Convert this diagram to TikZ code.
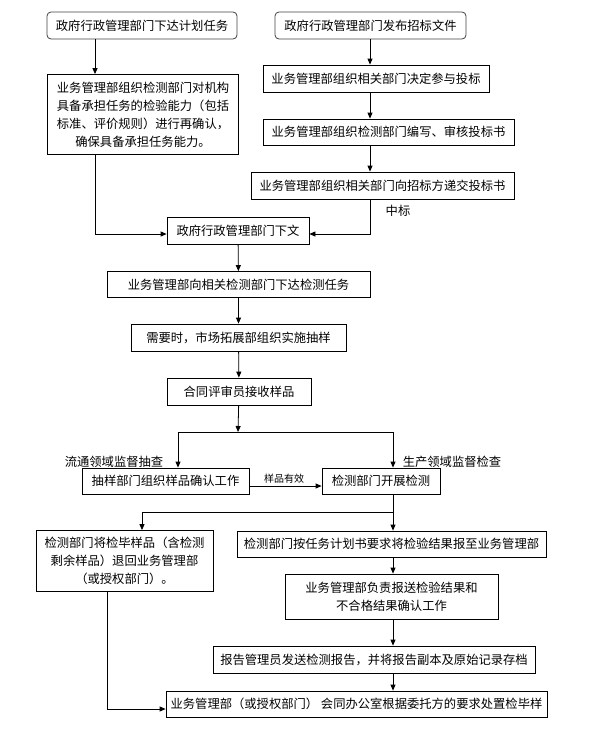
\documentclass[tikz,border=0pt]{standalone}
\usepackage{fontspec}
\setmainfont{Noto Sans CJK SC}
\usetikzlibrary{shapes, arrows.meta, positioning}
\tikzstyle{proc} = [rectangle, draw, line width=0.8pt, align=center, inner sep=0pt]
\tikzstyle{start} = [proc, rounded corners=4pt, draw=black!75]
\tikzstyle{flow} = [-{Triangle[length=6pt, width=5pt]}, line width=0.8pt]
\tikzstyle{line} = [line width=0.8pt]
\tikzstyle{tag} = [inner sep=0pt]

\begin{document}
\begin{tikzpicture}[x=1pt, y=-1pt, font=\fontsize{12.3pt}{18pt}\selectfont]
  \useasboundingbox (0,0) rectangle (589,739);

  % 任务来源
  \node[start, minimum width=190, minimum height=27] (task) at (142,25.5) {政府行政管理部门下达计划任务};
  \node[start, minimum width=191, minimum height=27] (tender) at (370.5,25.5) {政府行政管理部门发布招标文件};

  % 计划任务
  \node[proc, minimum width=191, minimum height=80] (recheck) at (143,114.5)
    {业务管理部组织检测部门对机构\\具备承担任务的检验能力（包括\\标准、评价规则）进行再确认，\\确保具备承担任务能力。};

  % 投标
  \node[proc, minimum width=226, minimum height=27] (decide) at (376,78.5) {业务管理部组织相关部门决定参与投标};
  \node[proc, minimum width=251, minimum height=26] (write) at (388.5,132) {业务管理部组织检测部门编写、审核投标书};
  \node[proc, minimum width=263, minimum height=27] (submit) at (382.5,185.5) {业务管理部组织相关部门向招标方递交投标书};
  \node[tag] (win) at (398,211) {中标};

  % 下达
  \node[proc, minimum width=142, minimum height=27] (doc) at (238,230.5) {政府行政管理部门下文};
  \node[proc, minimum width=263, minimum height=26] (assign) at (238.5,284.5) {业务管理部向相关检测部门下达检测任务};
  \node[proc, minimum width=215, minimum height=27] (sample) at (238.5,337.5) {需要时，市场拓展部组织实施抽样};
  \node[proc, minimum width=144, minimum height=27] (receive) at (239,391.5) {合同评审员接收样品};

  % 抽查 / 检查
  \node[tag] (circ) at (114,462) {流通领域监督抽查};
  \node[tag] (prod) at (452,462) {生产领域监督检查};
  \node[proc, minimum width=167, minimum height=26] (confirm) at (165.5,481) {抽样部门组织样品确认工作};
  \node[proc, minimum width=118, minimum height=26] (test) at (381,481) {检测部门开展检测};
  \node[tag, font=\fontsize{10pt}{12pt}\selectfont] (valid) at (284,479) {样品有效};

  % 检测后
  \node[proc, minimum width=177, minimum height=61] (back) at (124.5,561)
    {检测部门将检毕样品（含检测\\剩余样品）退回业务管理部\\（或授权部门）。};
  \node[proc, minimum width=309, minimum height=26] (report) at (391.5,544) {检测部门按任务计划书要求将检验结果报至业务管理部};
  \node[proc, minimum width=213, minimum height=45] (send) at (391.5,596.5)
    {业务管理部负责报送检验结果和\\不合格结果确认工作};
  \node[proc, minimum width=322, minimum height=27] (archive) at (374,659.5) {报告管理员发送检测报告，并将报告副本及原始记录存档};
  \node[proc, minimum width=381, minimum height=26] (dispose) at (356.5,704) {业务管理部（或授权部门） 会同办公室根据委托方的要求处置检毕样};

  % 转折点
  \coordinate (lcol) at (95,234);
  \coordinate (rcol) at (370,234);
  \coordinate (split) at (238,432);
  \coordinate (splitL) at (178,432);
  \coordinate (splitR) at (393,432);
  \coordinate (fork) at (393,512);
  \coordinate (forkL) at (142,512);
  \coordinate (ret) at (107,709);

  % 上部
  \draw[flow] (task.south -| lcol) -- (recheck.north -| lcol);
  \draw[flow] (recheck.south -| lcol) |- (doc.west |- lcol);
  \draw[flow] (tender.south -| rcol) -- (decide.north -| rcol);
  \draw[flow] (decide.south -| rcol) -- (write.north -| rcol);
  \draw[flow] (write.south -| rcol) -- (submit.north -| rcol);
  \draw[flow] (submit.south -| rcol) |- (doc.east |- rcol);

  % 中部
  \draw[flow] (doc) -- (assign);
  \draw[flow] (assign) -- (sample);
  \draw[flow] (sample) -- (receive);
  \draw[flow] (receive) -- (split);
  \draw[line] (splitL) -- (splitR);
  \draw[flow] (splitL) -- (splitL |- confirm.north);
  \draw[flow] (splitR) -- (splitR |- test.north);
  \draw[flow] ([yshift=-5pt]confirm.east) -- ([yshift=-5pt]test.west);

  % 下部
  \draw[line] (test.south -| fork) -- (fork);
  \draw[flow] (fork) -- (forkL) -- (forkL |- back.north);
  \draw[flow] (fork) -- (fork |- report.north);
  \draw[flow] (report.south -| fork) -- (send.north -| fork);
  \draw[flow] (send.south -| fork) -- (archive.north -| fork);
  \draw[flow] (archive.south -| fork) -- (dispose.north -| fork);
  \draw[flow] (back.south -| ret) |- (dispose.west |- ret);
\end{tikzpicture}
\end{document}
